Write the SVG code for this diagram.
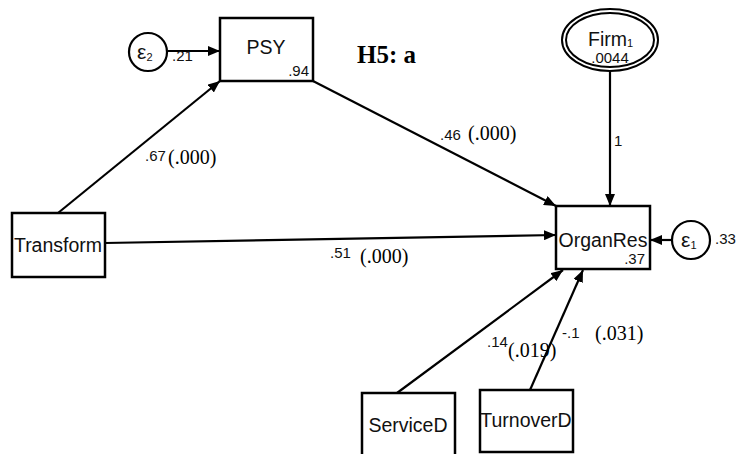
<svg xmlns="http://www.w3.org/2000/svg" width="736" height="454" viewBox="0 0 736 454">
  <style>
    .box { fill: #fff; stroke: #000; stroke-width: 2.5; }
    .circ { fill: #fff; stroke: #000; stroke-width: 2.2; }
    .edge { stroke: #000; stroke-width: 2.2; fill: none; marker-end: url(#arrow); }
    .name { font-family: "Liberation Sans", Arial, sans-serif; font-size: 19.5px; fill: #111; }
    .eps { font-family: "Liberation Sans", Arial, sans-serif; font-size: 21px; fill: #111; }
    .small { font-family: "Liberation Sans", Arial, sans-serif; font-size: 15px; fill: #111; }
    .sub { font-family: "Liberation Sans", Arial, sans-serif; font-size: 11px; fill: #111; }
    .pval { font-family: "Liberation Serif", "Times New Roman", serif; font-size: 20px; fill: #000; }
    .title { font-family: "Liberation Serif", "Times New Roman", serif; font-size: 25px; font-weight: bold; fill: #000; }
  </style>
  <defs>
    <marker id="arrow" viewBox="0 0 12 10" refX="12" refY="5" markerWidth="12" markerHeight="10" markerUnits="userSpaceOnUse" orient="auto">
      <path d="M0,0 L12,5 L0,10 Z" fill="#000"/>
    </marker>
  </defs>

  <!-- paths between variables -->
  <g id="connectors">
    <line class="edge" x1="168" y1="51" x2="220" y2="51"/>
    <line class="edge" x1="58" y1="213" x2="220" y2="81"/>
    <line class="edge" x1="313" y1="81" x2="556" y2="206"/>
    <line class="edge" x1="105" y1="243" x2="556" y2="235"/>
    <line class="edge" x1="610" y1="71" x2="610" y2="206"/>
    <line class="edge" x1="672" y1="240" x2="650" y2="240"/>
    <line class="edge" x1="397" y1="393" x2="563" y2="270"/>
    <line class="edge" x1="530" y1="390" x2="583" y2="270"/>

    <text class="small" x="172" y="61">.21</text>
    <text class="small" x="145" y="161">.67</text>
    <text class="pval" x="168" y="164">(.000)</text>
    <text class="small" x="440" y="140">.46</text>
    <text class="pval" x="468" y="140">(.000)</text>
    <text class="small" x="330" y="258">.51</text>
    <text class="pval" x="360" y="263">(.000)</text>
    <text class="small" x="614" y="146">1</text>
    <text class="small" x="487" y="347">.14</text>
    <text class="pval" x="508" y="357">(.019)</text>
    <text class="small" x="562" y="338">-.1</text>
    <text class="pval" x="595" y="340">(.031)</text>
  </g>

  <g id="h5-label">
    <text class="title" x="357" y="63">H5: a</text>
  </g>

  <g id="e2">
    <circle class="circ" cx="148" cy="52" r="19"/>
    <text class="eps" x="137" y="59">ε<tspan class="sub" dy="2">2</tspan></text>
  </g>

  <g id="psy">
    <rect class="box" x="220" y="18" width="93" height="63"/>
    <text class="name" x="266" y="54" text-anchor="middle">PSY</text>
    <text class="small" x="309" y="76" text-anchor="end">.94</text>
  </g>

  <g id="firm">
    <ellipse cx="610" cy="40" rx="48" ry="31" fill="#fff" stroke="#000" stroke-width="2"/>
    <ellipse cx="610" cy="40" rx="44" ry="27" fill="none" stroke="#000" stroke-width="2"/>
    <text class="name" x="588" y="46">Firm<tspan class="sub" dy="1">1</tspan></text>
    <text class="small" x="610" y="63" text-anchor="middle">.0044</text>
  </g>

  <g id="transform">
    <rect class="box" x="12" y="213" width="93" height="64"/>
    <text class="name" x="58" y="252" text-anchor="middle">Transform</text>
  </g>

  <g id="organres">
    <rect class="box" x="556" y="206" width="94" height="63"/>
    <text class="name" x="603" y="247" text-anchor="middle">OrganRes</text>
    <text class="small" x="645" y="264" text-anchor="end">.37</text>
  </g>

  <g id="e1">
    <circle class="circ" cx="691" cy="240" r="19"/>
    <text class="eps" x="681" y="247">ε<tspan class="sub" dy="2" fill="#6a1010">1</tspan></text>
    <text class="small" x="715" y="244">.33</text>
  </g>

  <g id="serviced">
    <rect class="box" x="362" y="393" width="93" height="70"/>
    <text class="name" x="408" y="432" text-anchor="middle">ServiceD</text>
  </g>

  <g id="turnoverd">
    <rect class="box" x="480" y="390" width="93" height="62"/>
    <text class="name" x="526" y="427" text-anchor="middle">TurnoverD</text>
  </g>
</svg>
